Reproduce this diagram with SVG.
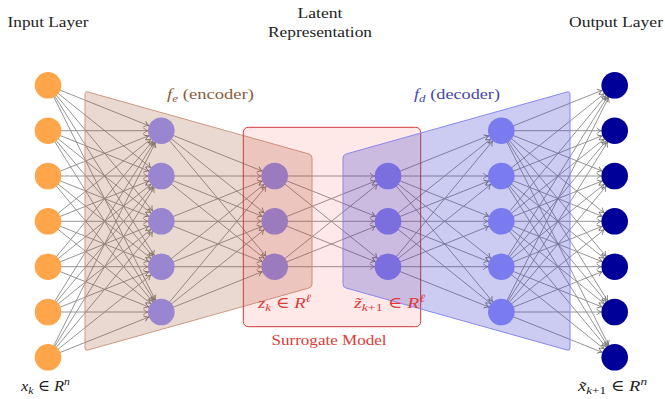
<svg xmlns="http://www.w3.org/2000/svg" width="665" height="399" viewBox="0 0 665 399">
<style>
text{font-family:"Liberation Serif","DejaVu Serif","Times New Roman",serif;font-size:15.5px;fill:#222}
.m{font-style:italic}
.e line{stroke:#8a8a8a;stroke-width:0.9;marker-end:url(#ah)}
.in{fill:#FFA64D}.eh{fill:#9A86D0}.l1{fill:#9B7BBE}.l2{fill:#7B6FE0}.dh{fill:#7B7BF0}.out{fill:#000099}
.red{fill:#e03a3a}
</style>
<defs>
<marker id="ah" markerUnits="userSpaceOnUse" orient="auto" refX="0" refY="0" markerWidth="1" markerHeight="1" overflow="visible">
<path d="M-18,-3 C-16.5,-1.2 -14.6,-0.3 -13.3,0 C-14.6,0.3 -16.5,1.2 -18,3" fill="none" stroke="#7a7a7a" stroke-width="0.9"/>
</marker>
</defs>
<rect width="665" height="399" fill="#fff"/>
<g id="connectors" class="e">
<line x1="48" y1="85.3" x2="161.3" y2="130.7"/><line x1="48" y1="85.3" x2="161.3" y2="176"/><line x1="48" y1="85.3" x2="161.3" y2="221.3"/><line x1="48" y1="85.3" x2="161.3" y2="266.7"/><line x1="48" y1="85.3" x2="161.3" y2="312"/>
<line x1="48" y1="130.7" x2="161.3" y2="130.7"/><line x1="48" y1="130.7" x2="161.3" y2="176"/><line x1="48" y1="130.7" x2="161.3" y2="221.3"/><line x1="48" y1="130.7" x2="161.3" y2="266.7"/><line x1="48" y1="130.7" x2="161.3" y2="312"/>
<line x1="48" y1="176" x2="161.3" y2="130.7"/><line x1="48" y1="176" x2="161.3" y2="176"/><line x1="48" y1="176" x2="161.3" y2="221.3"/><line x1="48" y1="176" x2="161.3" y2="266.7"/><line x1="48" y1="176" x2="161.3" y2="312"/>
<line x1="48" y1="221.3" x2="161.3" y2="130.7"/><line x1="48" y1="221.3" x2="161.3" y2="176"/><line x1="48" y1="221.3" x2="161.3" y2="221.3"/><line x1="48" y1="221.3" x2="161.3" y2="266.7"/><line x1="48" y1="221.3" x2="161.3" y2="312"/>
<line x1="48" y1="266.7" x2="161.3" y2="130.7"/><line x1="48" y1="266.7" x2="161.3" y2="176"/><line x1="48" y1="266.7" x2="161.3" y2="221.3"/><line x1="48" y1="266.7" x2="161.3" y2="266.7"/><line x1="48" y1="266.7" x2="161.3" y2="312"/>
<line x1="48" y1="312" x2="161.3" y2="130.7"/><line x1="48" y1="312" x2="161.3" y2="176"/><line x1="48" y1="312" x2="161.3" y2="221.3"/><line x1="48" y1="312" x2="161.3" y2="266.7"/><line x1="48" y1="312" x2="161.3" y2="312"/>
<line x1="48" y1="357.3" x2="161.3" y2="130.7"/><line x1="48" y1="357.3" x2="161.3" y2="176"/><line x1="48" y1="357.3" x2="161.3" y2="221.3"/><line x1="48" y1="357.3" x2="161.3" y2="266.7"/><line x1="48" y1="357.3" x2="161.3" y2="312"/>
<line x1="161.3" y1="130.7" x2="274.7" y2="176"/><line x1="161.3" y1="130.7" x2="274.7" y2="221.3"/><line x1="161.3" y1="130.7" x2="274.7" y2="266.7"/>
<line x1="161.3" y1="176" x2="274.7" y2="176"/><line x1="161.3" y1="176" x2="274.7" y2="221.3"/><line x1="161.3" y1="176" x2="274.7" y2="266.7"/>
<line x1="161.3" y1="221.3" x2="274.7" y2="176"/><line x1="161.3" y1="221.3" x2="274.7" y2="221.3"/><line x1="161.3" y1="221.3" x2="274.7" y2="266.7"/>
<line x1="161.3" y1="266.7" x2="274.7" y2="176"/><line x1="161.3" y1="266.7" x2="274.7" y2="221.3"/><line x1="161.3" y1="266.7" x2="274.7" y2="266.7"/>
<line x1="161.3" y1="312" x2="274.7" y2="176"/><line x1="161.3" y1="312" x2="274.7" y2="221.3"/><line x1="161.3" y1="312" x2="274.7" y2="266.7"/>
<line x1="274.7" y1="176" x2="388" y2="176"/><line x1="274.7" y1="176" x2="388" y2="221.3"/><line x1="274.7" y1="176" x2="388" y2="266.7"/>
<line x1="274.7" y1="221.3" x2="388" y2="176"/><line x1="274.7" y1="221.3" x2="388" y2="221.3"/><line x1="274.7" y1="221.3" x2="388" y2="266.7"/>
<line x1="274.7" y1="266.7" x2="388" y2="176"/><line x1="274.7" y1="266.7" x2="388" y2="221.3"/><line x1="274.7" y1="266.7" x2="388" y2="266.7"/>
<line x1="388" y1="176" x2="501.3" y2="130.7"/><line x1="388" y1="176" x2="501.3" y2="176"/><line x1="388" y1="176" x2="501.3" y2="221.3"/><line x1="388" y1="176" x2="501.3" y2="266.7"/><line x1="388" y1="176" x2="501.3" y2="312"/>
<line x1="388" y1="221.3" x2="501.3" y2="130.7"/><line x1="388" y1="221.3" x2="501.3" y2="176"/><line x1="388" y1="221.3" x2="501.3" y2="221.3"/><line x1="388" y1="221.3" x2="501.3" y2="266.7"/><line x1="388" y1="221.3" x2="501.3" y2="312"/>
<line x1="388" y1="266.7" x2="501.3" y2="130.7"/><line x1="388" y1="266.7" x2="501.3" y2="176"/><line x1="388" y1="266.7" x2="501.3" y2="221.3"/><line x1="388" y1="266.7" x2="501.3" y2="266.7"/><line x1="388" y1="266.7" x2="501.3" y2="312"/>
<line x1="501.3" y1="130.7" x2="614.7" y2="85.3"/><line x1="501.3" y1="130.7" x2="614.7" y2="130.7"/><line x1="501.3" y1="130.7" x2="614.7" y2="176"/><line x1="501.3" y1="130.7" x2="614.7" y2="221.3"/><line x1="501.3" y1="130.7" x2="614.7" y2="266.7"/><line x1="501.3" y1="130.7" x2="614.7" y2="312"/><line x1="501.3" y1="130.7" x2="614.7" y2="357.3"/>
<line x1="501.3" y1="176" x2="614.7" y2="85.3"/><line x1="501.3" y1="176" x2="614.7" y2="130.7"/><line x1="501.3" y1="176" x2="614.7" y2="176"/><line x1="501.3" y1="176" x2="614.7" y2="221.3"/><line x1="501.3" y1="176" x2="614.7" y2="266.7"/><line x1="501.3" y1="176" x2="614.7" y2="312"/><line x1="501.3" y1="176" x2="614.7" y2="357.3"/>
<line x1="501.3" y1="221.3" x2="614.7" y2="85.3"/><line x1="501.3" y1="221.3" x2="614.7" y2="130.7"/><line x1="501.3" y1="221.3" x2="614.7" y2="176"/><line x1="501.3" y1="221.3" x2="614.7" y2="221.3"/><line x1="501.3" y1="221.3" x2="614.7" y2="266.7"/><line x1="501.3" y1="221.3" x2="614.7" y2="312"/><line x1="501.3" y1="221.3" x2="614.7" y2="357.3"/>
<line x1="501.3" y1="266.7" x2="614.7" y2="85.3"/><line x1="501.3" y1="266.7" x2="614.7" y2="130.7"/><line x1="501.3" y1="266.7" x2="614.7" y2="176"/><line x1="501.3" y1="266.7" x2="614.7" y2="221.3"/><line x1="501.3" y1="266.7" x2="614.7" y2="266.7"/><line x1="501.3" y1="266.7" x2="614.7" y2="312"/><line x1="501.3" y1="266.7" x2="614.7" y2="357.3"/>
<line x1="501.3" y1="312" x2="614.7" y2="85.3"/><line x1="501.3" y1="312" x2="614.7" y2="130.7"/><line x1="501.3" y1="312" x2="614.7" y2="176"/><line x1="501.3" y1="312" x2="614.7" y2="221.3"/><line x1="501.3" y1="312" x2="614.7" y2="266.7"/><line x1="501.3" y1="312" x2="614.7" y2="312"/><line x1="501.3" y1="312" x2="614.7" y2="357.3"/>
</g>
<g id="regions">
<path id="encoder-region" d="M88,92 L309,154 Q312,155 312,158 L312,284 Q312,287 309,288 L88,350 Q85,351 85,348 L85,95 Q85,91 88,92 Z" fill="#a0522d" fill-opacity="0.22" stroke="#c89a80" stroke-width="1"/>
<rect id="surrogate-box" x="243.3" y="127.3" width="177.4" height="199.4" rx="5" fill="#ff2020" fill-opacity="0.1" stroke="#d03a3a" stroke-width="1"/>
<path id="decoder-region" d="M567,92 L346,154 Q343,155 343,158 L343,284 Q343,287 346,288 L567,350 Q570,351 570,348 L570,95 Q570,91 567,92 Z" fill="#3333cc" fill-opacity="0.25" stroke="#8888ee" stroke-width="1"/>
</g>
<g id="input-layer">
<circle id="x1" class="in" cx="48" cy="85.3" r="13.3"/><circle id="x2" class="in" cx="48" cy="130.7" r="13.3"/><circle id="x3" class="in" cx="48" cy="176" r="13.3"/><circle id="x4" class="in" cx="48" cy="221.3" r="13.3"/><circle id="x5" class="in" cx="48" cy="266.7" r="13.3"/><circle id="x6" class="in" cx="48" cy="312" r="13.3"/><circle id="x7" class="in" cx="48" cy="357.3" r="13.3"/>
</g>
<g id="encoder-hidden">
<circle id="h1" class="eh" cx="161.3" cy="130.7" r="13.3"/><circle id="h2" class="eh" cx="161.3" cy="176" r="13.3"/><circle id="h3" class="eh" cx="161.3" cy="221.3" r="13.3"/><circle id="h4" class="eh" cx="161.3" cy="266.7" r="13.3"/><circle id="h5" class="eh" cx="161.3" cy="312" r="13.3"/>
</g>
<g id="latent-zk">
<circle id="z1" class="l1" cx="274.7" cy="176" r="13.3"/><circle id="z2" class="l1" cx="274.7" cy="221.3" r="13.3"/><circle id="z3" class="l1" cx="274.7" cy="266.7" r="13.3"/>
</g>
<g id="latent-zk1">
<circle id="zz1" class="l2" cx="388" cy="176" r="13.3"/><circle id="zz2" class="l2" cx="388" cy="221.3" r="13.3"/><circle id="zz3" class="l2" cx="388" cy="266.7" r="13.3"/>
</g>
<g id="decoder-hidden">
<circle id="d1" class="dh" cx="501.3" cy="130.7" r="13.3"/><circle id="d2" class="dh" cx="501.3" cy="176" r="13.3"/><circle id="d3" class="dh" cx="501.3" cy="221.3" r="13.3"/><circle id="d4" class="dh" cx="501.3" cy="266.7" r="13.3"/><circle id="d5" class="dh" cx="501.3" cy="312" r="13.3"/>
</g>
<g id="output-layer">
<circle id="y1" class="out" cx="614.7" cy="85.3" r="13.3"/><circle id="y2" class="out" cx="614.7" cy="130.7" r="13.3"/><circle id="y3" class="out" cx="614.7" cy="176" r="13.3"/><circle id="y4" class="out" cx="614.7" cy="221.3" r="13.3"/><circle id="y5" class="out" cx="614.7" cy="266.7" r="13.3"/><circle id="y6" class="out" cx="614.7" cy="312" r="13.3"/><circle id="y7" class="out" cx="614.7" cy="357.3" r="13.3"/>
</g>
<g id="labels">
<text x="48" y="27.3" text-anchor="middle" textLength="81" lengthAdjust="spacingAndGlyphs">Input Layer</text>
<text x="320" y="18.3" text-anchor="middle" textLength="45" lengthAdjust="spacingAndGlyphs">Latent</text>
<text x="320" y="36.7" text-anchor="middle" textLength="104" lengthAdjust="spacingAndGlyphs">Representation</text>
<text x="616" y="27.3" text-anchor="middle" textLength="94" lengthAdjust="spacingAndGlyphs">Output Layer</text>
<text x="167" y="99" style="fill:#8c5a3c" textLength="87" lengthAdjust="spacingAndGlyphs"><tspan class="m">f</tspan><tspan class="m" font-size="11" dy="3">e</tspan><tspan dy="-3" dx="4">(encoder)</tspan></text>
<text x="414" y="99" style="fill:#4545b0" textLength="86" lengthAdjust="spacingAndGlyphs"><tspan class="m">f</tspan><tspan class="m" font-size="11" dy="3">d</tspan><tspan dy="-3" dx="4">(decoder)</tspan></text>
<text x="258" y="308" class="red" font-size="16" textLength="53" lengthAdjust="spacingAndGlyphs"><tspan class="m">z</tspan><tspan class="m" font-size="11" dy="3">k</tspan><tspan dy="-3"> ∈ </tspan><tspan class="m">R</tspan><tspan class="m" font-size="11" dy="-6">ℓ</tspan></text>
<text x="354" y="308" class="red" font-size="16" textLength="71" lengthAdjust="spacingAndGlyphs"><tspan class="m">z̃</tspan><tspan class="m" font-size="11" dy="3">k</tspan><tspan font-size="11">+1</tspan><tspan dy="-3"> ∈ </tspan><tspan class="m">R</tspan><tspan class="m" font-size="11" dy="-6">ℓ</tspan></text>
<text x="329" y="345" class="red" text-anchor="middle" textLength="115" lengthAdjust="spacingAndGlyphs">Surrogate Model</text>
<text x="21" y="391" font-size="16" textLength="49" lengthAdjust="spacingAndGlyphs"><tspan class="m">x</tspan><tspan class="m" font-size="11" dy="3">k</tspan><tspan dy="-3"> ∈ </tspan><tspan class="m">R</tspan><tspan class="m" font-size="11" dy="-6">n</tspan></text>
<text x="578" y="391" font-size="16" textLength="69" lengthAdjust="spacingAndGlyphs"><tspan class="m">x̃</tspan><tspan class="m" font-size="11" dy="3">k</tspan><tspan font-size="11">+1</tspan><tspan dy="-3"> ∈ </tspan><tspan class="m">R</tspan><tspan class="m" font-size="11" dy="-6">n</tspan></text>
</g>
</svg>
